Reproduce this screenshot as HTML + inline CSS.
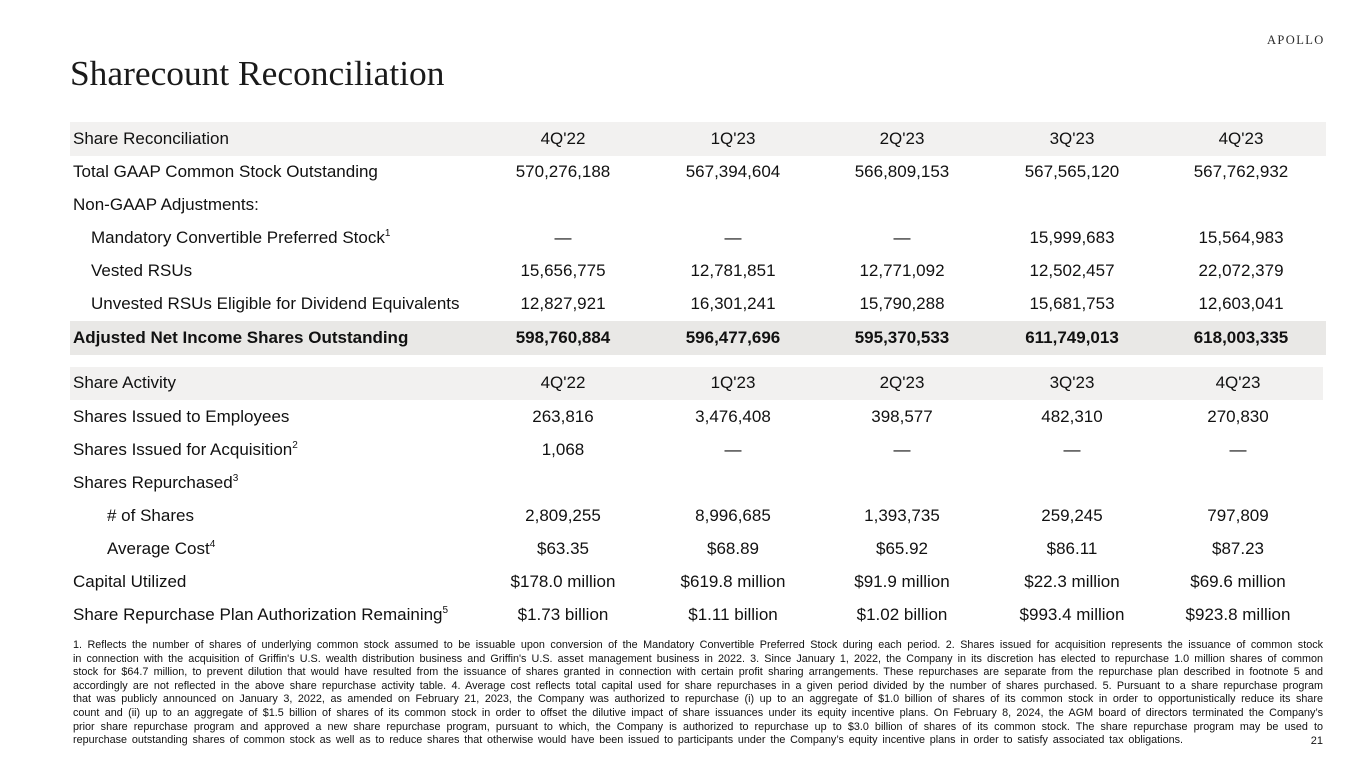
<!DOCTYPE html>
<html>
<head>
<meta charset="utf-8">
<style>
  html,body{margin:0;padding:0;}
  body{width:1365px;height:768px;position:relative;background:#fff;overflow:hidden;
       font-family:"Liberation Sans",Arial,sans-serif;color:#111;}
  .title{position:absolute;left:70px;top:55px;font-family:"Liberation Serif","Times New Roman",serif;
         font-size:35.4px;line-height:36px;color:#1a1a1a;white-space:nowrap;}
  .logo{position:absolute;left:1267px;top:34px;font-family:"Liberation Serif",serif;font-size:12.5px;
        line-height:12px;letter-spacing:1.4px;color:#2a2a2a;white-space:nowrap;}
  .band{position:absolute;left:70px;background:#f2f1f0;}
  .band2{position:absolute;left:70px;background:#e9e8e6;}
  .row{position:absolute;left:0;width:1365px;height:20px;font-size:17px;line-height:20px;white-space:nowrap;}
  .row .l{position:absolute;left:73px;top:0;}
  .row .l.i1{left:91px;}
  .row .l.i2{left:107px;}
  .row .c{position:absolute;top:0;width:170px;margin-left:-85px;text-align:center;}
  .c1{left:563px;} .c2{left:733px;} .c3{left:902px;} .c4{left:1072px;} .c5{left:1241px;}
  .t2 .c5{left:1238px;}
  .b{font-weight:bold;}
  .sup{font-size:10px;position:relative;top:-7px;line-height:0;}
  .fn{position:absolute;left:73px;width:1250px;font-size:10.8px;line-height:13.6px;color:#111;}
  .fn div{text-align:justify;text-align-last:justify;white-space:nowrap;height:13.6px;}
  .fn div.last{width:1110px;}
  .pg{position:absolute;left:1283px;width:40px;text-align:right;font-size:11px;line-height:13.6px;top:735px;color:#111;}
</style>
</head>
<body>
<div class="title">Sharecount Reconciliation</div>
<div class="logo">APOLLO</div>

<!-- bands -->
<div class="band" style="top:122px;height:34px;width:1256px;"></div>
<div class="band2" style="top:321px;height:34px;width:1256px;"></div>
<div class="band" style="top:367px;height:33px;width:1253px;"></div>

<!-- Table 1 -->
<div class="row" style="top:129px;"><span class="l">Share Reconciliation</span><span class="c c1">4Q'22</span><span class="c c2">1Q'23</span><span class="c c3">2Q'23</span><span class="c c4">3Q'23</span><span class="c c5">4Q'23</span></div>
<div class="row" style="top:162px;"><span class="l">Total GAAP Common Stock Outstanding</span><span class="c c1">570,276,188</span><span class="c c2">567,394,604</span><span class="c c3">566,809,153</span><span class="c c4">567,565,120</span><span class="c c5">567,762,932</span></div>
<div class="row" style="top:195px;"><span class="l">Non-GAAP Adjustments:</span></div>
<div class="row" style="top:228px;"><span class="l i1">Mandatory Convertible Preferred Stock<span class="sup">1</span></span><span class="c c1">—</span><span class="c c2">—</span><span class="c c3">—</span><span class="c c4">15,999,683</span><span class="c c5">15,564,983</span></div>
<div class="row" style="top:261px;"><span class="l i1">Vested RSUs</span><span class="c c1">15,656,775</span><span class="c c2">12,781,851</span><span class="c c3">12,771,092</span><span class="c c4">12,502,457</span><span class="c c5">22,072,379</span></div>
<div class="row" style="top:294px;"><span class="l i1">Unvested RSUs Eligible for Dividend Equivalents</span><span class="c c1">12,827,921</span><span class="c c2">16,301,241</span><span class="c c3">15,790,288</span><span class="c c4">15,681,753</span><span class="c c5">12,603,041</span></div>
<div class="row b" style="top:328px;"><span class="l">Adjusted Net Income Shares Outstanding</span><span class="c c1">598,760,884</span><span class="c c2">596,477,696</span><span class="c c3">595,370,533</span><span class="c c4">611,749,013</span><span class="c c5">618,003,335</span></div>

<!-- Table 2 -->
<div class="t2">
<div class="row" style="top:373px;"><span class="l">Share Activity</span><span class="c c1">4Q'22</span><span class="c c2">1Q'23</span><span class="c c3">2Q'23</span><span class="c c4">3Q'23</span><span class="c c5">4Q'23</span></div>
<div class="row" style="top:407px;"><span class="l">Shares Issued to Employees</span><span class="c c1">263,816</span><span class="c c2">3,476,408</span><span class="c c3">398,577</span><span class="c c4">482,310</span><span class="c c5">270,830</span></div>
<div class="row" style="top:440px;"><span class="l">Shares Issued for Acquisition<span class="sup">2</span></span><span class="c c1">1,068</span><span class="c c2">—</span><span class="c c3">—</span><span class="c c4">—</span><span class="c c5">—</span></div>
<div class="row" style="top:473px;"><span class="l">Shares Repurchased<span class="sup">3</span></span></div>
<div class="row" style="top:506px;"><span class="l i2"># of Shares</span><span class="c c1">2,809,255</span><span class="c c2">8,996,685</span><span class="c c3">1,393,735</span><span class="c c4">259,245</span><span class="c c5">797,809</span></div>
<div class="row" style="top:539px;"><span class="l i2">Average Cost<span class="sup">4</span></span><span class="c c1">$63.35</span><span class="c c2">$68.89</span><span class="c c3">$65.92</span><span class="c c4">$86.11</span><span class="c c5">$87.23</span></div>
<div class="row" style="top:572px;"><span class="l">Capital Utilized</span><span class="c c1">$178.0 million</span><span class="c c2">$619.8 million</span><span class="c c3">$91.9 million</span><span class="c c4">$22.3 million</span><span class="c c5">$69.6 million</span></div>
<div class="row" style="top:605px;"><span class="l">Share Repurchase Plan Authorization Remaining<span class="sup">5</span></span><span class="c c1">$1.73 billion</span><span class="c c2">$1.11 billion</span><span class="c c3">$1.02 billion</span><span class="c c4">$993.4 million</span><span class="c c5">$923.8 million</span></div>
</div>

<!-- Footnotes -->
<div class="fn" style="top:639px;">
<div>1. Reflects the number of shares of underlying common stock assumed to be issuable upon conversion of the Mandatory Convertible Preferred Stock during each period. 2. Shares issued for acquisition represents the issuance of common stock</div>
<div>in connection with the acquisition of Griffin's U.S. wealth distribution business and Griffin's U.S. asset management business in 2022. 3. Since January 1, 2022, the Company in its discretion has elected to repurchase 1.0 million shares of common</div>
<div>stock for $64.7 million, to prevent dilution that would have resulted from the issuance of shares granted in connection with certain profit sharing arrangements. These repurchases are separate from the repurchase plan described in footnote 5 and</div>
<div>accordingly are not reflected in the above share repurchase activity table. 4. Average cost reflects total capital used for share repurchases in a given period divided by the number of shares purchased. 5. Pursuant to a share repurchase program</div>
<div>that was publicly announced on January 3, 2022, as amended on February 21, 2023, the Company was authorized to repurchase (i) up to an aggregate of $1.0 billion of shares of its common stock in order to opportunistically reduce its share</div>
<div>count and (ii) up to an aggregate of $1.5 billion of shares of its common stock in order to offset the dilutive impact of share issuances under its equity incentive plans. On February 8, 2024, the AGM board of directors terminated the Company’s</div>
<div>prior share repurchase program and approved a new share repurchase program, pursuant to which, the Company is authorized to repurchase up to $3.0 billion of shares of its common stock. The share repurchase program may be used to</div>
<div class="last">repurchase outstanding shares of common stock as well as to reduce shares that otherwise would have been issued to participants under the Company’s equity incentive plans in order to satisfy associated tax obligations.</div>
</div>
<div class="pg">21</div>
</body>
</html>
